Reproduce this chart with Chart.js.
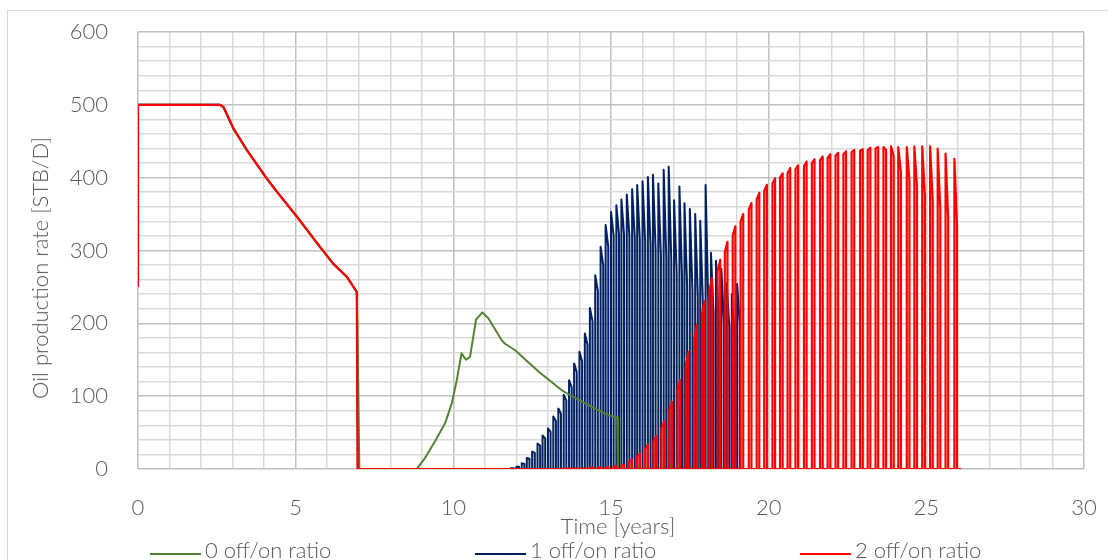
<!DOCTYPE html>
<html>
<head>
<meta charset="utf-8">
<script src="https://cdn.jsdelivr.net/npm/chart.js@4.4.1/dist/chart.umd.min.js"></script>
<style>
  html, body { margin: 0; padding: 0; background: #fff; overflow: hidden; }
  #wrap { position: relative; width: 1108px; height: 560px; font-family: 'Lato', 'Noto Sans', sans-serif; font-weight: 300; color: #595959; }
  #frame { position: absolute; left: 7px; top: 10px; width: 1200px; height: 700px; border-left: 1px solid #d9d9d9; border-top: 1px solid #d9d9d9; }
  #chart { position: absolute; left: 0; top: 0; }
  .title { position: absolute; font-size: 22px; white-space: nowrap; line-height: 24px; }
  #ytitle { left: 40px; top: 268px; transform: translate(-50%, -50%) rotate(-90deg); }
  #xtitle { left: 618px; top: 526px; transform: translate(-50%, -50%); }
  .leg { position: absolute; top: 538px; font-size: 22px; line-height: 24px; white-space: nowrap; }
  .leg i { display: inline-block; width: 51px; height: 2px; vertical-align: middle; margin-right: 4px; position: relative; top: 1px; }
</style>
</head>
<body>
<div id="wrap">
  <div id="frame"></div>
  <canvas id="chart" width="1108" height="560"></canvas>
  <div class="title" id="ytitle">Oil production rate [STB/D]</div>
  <div class="title" id="xtitle">Time [years]</div>
  <div class="leg" style="left:150px"><i style="background:#548235"></i>0 off/on ratio</div>
  <div class="leg" style="left:475px"><i style="background:#002060"></i>1 off/on ratio</div>
  <div class="leg" style="left:800px"><i style="background:#ff0000"></i>2 off/on ratio</div>
</div>
<script>
// common plateau + decline before shut-in (all three cases)
const baseT = [0, 0, 2.6, 2.71, 3.02, 3.45, 4.08, 4.4, 5.03, 5.77, 6.19, 6.62, 6.94];
const baseV = [250, 500, 500, 497, 468, 438, 399, 381, 347, 305, 282, 264, 243];

// 0 off/on ratio
const greenT = [7.02, 8.85, 8.89, 9.10, 9.42, 9.74, 9.95, 10.11, 10.26, 10.40, 10.53, 10.72, 10.92, 11.11, 11.53, 11.64, 11.96, 12.70, 13.44, 13.60, 14.18, 14.81, 15.20, 15.22];
const greenV = [0, 0, 3, 15, 38, 63, 90, 122, 159, 150, 154, 205, 215, 207, 177, 172, 163, 134, 108, 104, 90, 76, 70, 0];

// 1 off/on ratio: start of each on period, rate at start and at end of it
const ON_BLUE = 1 / 12;
const blueOn = [11.83, 12.0, 12.17, 12.33, 12.5, 12.67, 12.83, 13.0, 13.17, 13.33, 13.5, 13.67, 13.83, 14.0, 14.17, 14.33, 14.5, 14.67, 14.83, 15.0,
  15.17, 15.33, 15.5, 15.67, 15.83, 16.0, 16.17, 16.33, 16.5, 16.67, 16.83, 17.0, 17.17, 17.33, 17.5, 17.67, 17.83, 18.0, 18.17, 18.33, 18.5, 18.67, 18.83, 19.0];
const bluePeak = [1, 3, 8, 15, 24, 35, 46, 56, 72, 83, 102, 122, 145, 161, 186, 221, 266, 305, 335, 353,
  362, 370, 377, 384, 390, 395, 401, 404, 392, 411, 415, 369, 388, 365, 357, 350, 341, 390, 297, 286, 275, 255, 240, 254];
const blueEnd = [1, 3, 7, 14, 22, 32, 42, 51, 66, 76, 94, 112, 133, 148, 171, 203, 244, 280, 305, 320,
  322, 322, 320, 318, 315, 312, 308, 302, 292, 290, 284, 268, 262, 252, 244, 236, 228, 230, 214, 206, 200, 194, 188, 200];

// 2 off/on ratio
const ON_RED = 1 / 12;
const redOn = [13.58, 13.83, 14.08, 14.33, 14.58, 14.83, 15.08, 15.33, 15.58, 15.83, 16.08, 16.35, 16.6, 16.85, 17.11, 17.37, 17.64, 17.88, 18.12, 18.38,
  18.61, 18.86, 19.11, 19.37, 19.62, 19.86, 20.12, 20.36, 20.6, 20.85, 21.12, 21.37, 21.63, 21.87, 22.12, 22.37, 22.63, 22.9, 23.14, 23.39,
  23.64, 23.88, 24.11, 24.38, 24.62, 24.87, 25.12, 25.36, 25.61, 25.89];
const redStart = [1, 1, 1, 2, 2, 2, 3, 5, 10, 17, 27, 38, 56, 80, 108, 140, 180, 212, 245, 272,
  298, 321, 340, 356, 370, 382, 392, 400, 406, 411, 416, 420, 424, 427, 430, 432, 435, 437, 438, 440,
  442, 443, 442, 442, 443, 443, 443, 440, 433, 426];
const redEnd = [1, 1, 1, 2, 2, 3, 4, 6, 13, 21, 33, 45, 65, 92, 122, 161, 198, 230, 262, 287,
  312, 333, 350, 365, 379, 390, 399, 406, 413, 417, 422, 425, 429, 432, 434, 436, 438, 439, 441, 442,
  438, 430, 408, 397, 388, 376, 368, 356, 344, 335];

const xTicks = [0, 5, 10, 15, 20, 25, 30];
const yTicks = [0, 100, 200, 300, 400, 500, 600];

function base(dropT) {
  const pts = baseT.map((t, i) => ({ x: t, y: baseV[i] }));
  pts.push({ x: dropT, y: 0 });
  return pts;
}
function cycles(on, a, b, dur) {
  const pts = [];
  on.forEach((t, i) => {
    pts.push({ x: t, y: 0 }, { x: t, y: a[i] }, { x: t + dur, y: b[i] }, { x: t + dur, y: 0 });
  });
  return pts;
}

const greenData = base(7.02).concat(greenT.map((t, i) => ({ x: t, y: greenV[i] })));
const blueData = base(6.98).concat(cycles(blueOn, bluePeak, blueEnd, ON_BLUE), [{ x: 19.15, y: 0 }]);
const redData = base(6.96).concat(cycles(redOn, redStart, redEnd, ON_RED), [{ x: 26.1, y: 0 }]);

const FONT = { family: "'Lato', 'Noto Sans', sans-serif", size: 22, weight: '300' };
const MINOR = '#d9d9d9', MAJOR = '#bfbfbf';
const lineOpts = { pointRadius: 0, borderWidth: 2, tension: 0, borderJoinStyle: 'round', fill: false };

// tick padding would otherwise push the plot area in; the layout padding sets it instead
function noOverflow(s) {
  s.paddingLeft = 0; s.paddingRight = 0; s.paddingTop = 0; s.paddingBottom = 0;
}

new Chart(document.getElementById('chart'), {
  type: 'line',
  data: {
    datasets: [
      { label: '0 off/on ratio', data: greenData, borderColor: '#548235', order: 1, ...lineOpts },
      { label: '1 off/on ratio', data: blueData, borderColor: '#002060', order: 2, ...lineOpts },
      { label: '2 off/on ratio', data: redData, borderColor: '#ff0000', order: 0, ...lineOpts, borderWidth: 2.2 }
    ]
  },
  options: {
    responsive: false,
    animation: false,
    events: [],
    layout: { padding: { left: 0, right: 24, top: 32, bottom: 0 } },
    plugins: { legend: { display: false }, tooltip: { enabled: false } },
    scales: {
      x: {
        type: 'linear', min: 0, max: 30,
        afterFit: s => { s.height = 91; noOverflow(s); },
        border: { display: false },
        grid: { drawTicks: false, lineWidth: 1.5, color: c => xTicks.includes(c.tick.value) ? MAJOR : MINOR },
        ticks: { stepSize: 1, autoSkip: false, maxRotation: 0, padding: 26, color: '#595959', font: FONT,
          callback: v => xTicks.includes(v) ? String(v) : '' }
      },
      y: {
        min: 0, max: 600,
        afterFit: s => { s.width = 138; noOverflow(s); },
        border: { display: false },
        grid: { drawTicks: false, lineWidth: 1.5, color: c => yTicks.includes(c.tick.value) ? MAJOR : MINOR },
        ticks: { stepSize: 20, autoSkip: false, padding: 30, color: '#595959', font: FONT,
          callback: v => yTicks.includes(v) ? String(v) : '' }
      }
    }
  }
});
</script>
</body>
</html>
